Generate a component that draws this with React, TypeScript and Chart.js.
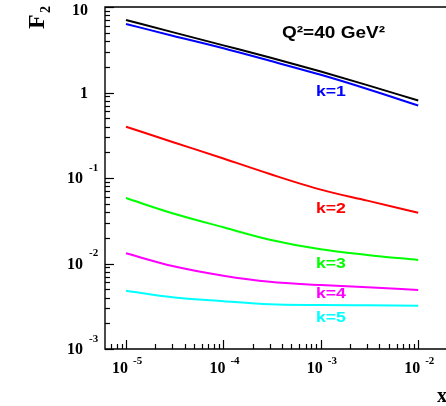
import React, { useEffect, useRef } from "react";
import { Chart, registerables } from "chart.js";

Chart.register(...registerables);

// ---- data ----
const xValues = [1e-5, 3e-5, 1e-4, 3e-4, 1e-3, 3e-3, 1e-2];
const totalF2 = [7.05, 5.08, 3.56, 2.57, 1.76, 1.22, 0.805];
const k1 = [6.33, 4.62, 3.29, 2.35, 1.61, 1.1, 0.705];
const k2 = [0.398, 0.264, 0.169, 0.1114, 0.0731, 0.0544, 0.0392];
const k3 = [0.0583, 0.0387, 0.0265, 0.019, 0.01466, 0.0126, 0.011];
const k4 = [0.01316, 0.00935, 0.0072, 0.0061, 0.0056, 0.00528, 0.0049];
const k5 = [0.00481, 0.00403, 0.00362, 0.00333, 0.00327, 0.00324, 0.00321];

const seriesNames = ["total", "k=1", "k=2", "k=3", "k=4", "k=5"];
const seriesColors = ["#000000", "#0000ff", "#ff0000", "#00ff00", "#ff00ff", "#00ffff"];

const xTickExponents = [-5, -4, -3, -2];
const yTickExponents = [1, 0, -1, -2, -3];

// label anchors (data coordinates)
const kLabels = ["k=1", "k=2", "k=3", "k=4", "k=5"];
const kLabelX = 1.27e-3;
const kLabelY = [1.01, 0.0434, 0.00986, 0.0044, 0.00231];
const titleText = "Q\u00b2=40 GeV\u00b2";
const titleX = 1.35e-3;
const titleY = 4.83;

const X_MIN = Math.pow(10, -5.2156);
const X_MAX = Math.pow(10, -1.7146);
const Y_MIN = 1e-3;
const Y_MAX = 10;

function stretchText(ctx: CanvasRenderingContext2D, text: string, cx: number, cy: number, width: number) {
  ctx.save();
  ctx.textAlign = "center";
  ctx.textBaseline = "middle";
  const m = ctx.measureText(text).width;
  ctx.translate(cx, cy);
  ctx.scale(width / m, 1);
  ctx.fillText(text, 0, 0);
  ctx.restore();
}

const framePlugin = {
  id: "framePlugin",
  afterDraw(chart: any) {
    const ctx: CanvasRenderingContext2D = chart.ctx;
    const { left, right, top, bottom } = chart.chartArea;
    const xs = chart.scales.x;
    const ys = chart.scales.y;
    ctx.save();
    ctx.strokeStyle = "#000";
    ctx.fillStyle = "#000";
    ctx.lineWidth = 1.4;
    // frame
    ctx.beginPath();
    ctx.moveTo(right + 2, top);
    ctx.lineTo(left, top);
    ctx.lineTo(left, bottom);
    ctx.lineTo(right + 2, bottom);
    ctx.stroke();

    ctx.lineWidth = 1.2;
    // y ticks
    for (let e = -3; e <= 1; e++) {
      for (let m = 1; m <= 9; m++) {
        const v = m * Math.pow(10, e);
        if (v < Y_MIN - 1e-12 || v > Y_MAX + 1e-9) continue;
        const py = Math.round(ys.getPixelForValue(v)) + 0.5;
        const len = m === 1 ? 9 : 5;
        ctx.beginPath();
        ctx.moveTo(left, py);
        ctx.lineTo(left + len, py);
        ctx.stroke();
      }
    }
    // x ticks
    for (let e = -6; e <= -1; e++) {
      for (let m = 1; m <= 9; m++) {
        const v = m * Math.pow(10, e);
        if (v < X_MIN || v > X_MAX) continue;
        const px = Math.round(xs.getPixelForValue(v)) + 0.5;
        const len = m === 1 ? 9 : 5;
        ctx.beginPath();
        ctx.moveTo(px, bottom);
        ctx.lineTo(px, bottom - len);
        ctx.stroke();
      }
    }

    // y tick labels
    const baseFont = "bold 16px 'Liberation Serif', serif";
    const supFont = "bold 11px 'Liberation Serif', serif";
    for (const e of yTickExponents) {
      const py = ys.getPixelForValue(Math.pow(10, e));
      const cy = Math.max(py + 1, 11);
      ctx.textBaseline = "middle";
      if (e >= 0) {
        ctx.font = baseFont;
        ctx.textAlign = "right";
        ctx.fillText(e === 1 ? "10" : "1", left - 17, cy);
      } else {
        ctx.font = baseFont;
        ctx.textAlign = "right";
        ctx.fillText("10", left - 22, cy);
        ctx.font = supFont;
        ctx.textAlign = "left";
        ctx.fillText(String(e), left - 16, cy - 11);
      }
    }
    // x tick labels
    for (const e of xTickExponents) {
      const px = xs.getPixelForValue(Math.pow(10, e));
      ctx.font = baseFont;
      ctx.textAlign = "right";
      ctx.textBaseline = "alphabetic";
      ctx.fillText("10", px + 2, bottom + 24);
      ctx.font = supFont;
      ctx.textAlign = "left";
      ctx.fillText(String(e), px + 7, bottom + 15);
    }

    // axis titles
    ctx.save();
    ctx.translate(44, 29);
    ctx.rotate(-Math.PI / 2);
    ctx.font = "bold 24px 'Liberation Serif', serif";
    ctx.textAlign = "left";
    ctx.textBaseline = "alphabetic";
    ctx.fillText("F", 0, 0);
    ctx.font = "bold 14px 'Liberation Serif', serif";
    ctx.fillText("2", 16, 6);
    ctx.restore();

    ctx.font = "bold 20px 'Liberation Serif', serif";
    ctx.textAlign = "left";
    ctx.textBaseline = "alphabetic";
    ctx.fillText("x", 437, 402);

    // annotation
    ctx.fillStyle = "#000";
    ctx.font = "bold 16px 'Liberation Sans', sans-serif";
    stretchText(ctx, titleText, xs.getPixelForValue(titleX), ys.getPixelForValue(titleY), 103);

    ctx.font = "bold 15px 'Liberation Sans', sans-serif";
    kLabels.forEach((t, i) => {
      ctx.fillStyle = seriesColors[i + 1];
      stretchText(ctx, t, xs.getPixelForValue(kLabelX), ys.getPixelForValue(kLabelY[i]), 30);
    });
    ctx.restore();
  },
};

export default function App() {
  const ref = useRef<HTMLCanvasElement | null>(null);
  useEffect(() => {
    if (!ref.current) return;
    const series = [totalF2, k1, k2, k3, k4, k5];
    const datasets = series.map((arr, i) => ({
      label: seriesNames[i],
      data: xValues.map((x, j) => ({ x, y: arr[j] })),
      borderColor: seriesColors[i],
      backgroundColor: seriesColors[i],
      borderWidth: 2,
      pointRadius: 0,
      fill: false,
      cubicInterpolationMode: "monotone" as const,
      order: i,
    }));
    const chart = new Chart(ref.current, {
      type: "line",
      data: { datasets },
      options: {
        responsive: false,
        animation: false,
        devicePixelRatio: 1,
        layout: { padding: { left: 105, top: 7, right: 0, bottom: 57 } },
        plugins: { legend: { display: false }, tooltip: { enabled: false } },
        scales: {
          x: { type: "logarithmic", min: X_MIN, max: X_MAX, display: false },
          y: { type: "logarithmic", min: Y_MIN, max: Y_MAX, display: false },
        },
      },
      plugins: [framePlugin],
    });
    return () => chart.destroy();
  }, []);
  return (
    <div style={{ position: "absolute", left: 0, top: 0, width: 446, height: 406, background: "#fff" }}>
      <canvas ref={ref} width={446} height={406} style={{ display: "block" }} />
    </div>
  );
}
